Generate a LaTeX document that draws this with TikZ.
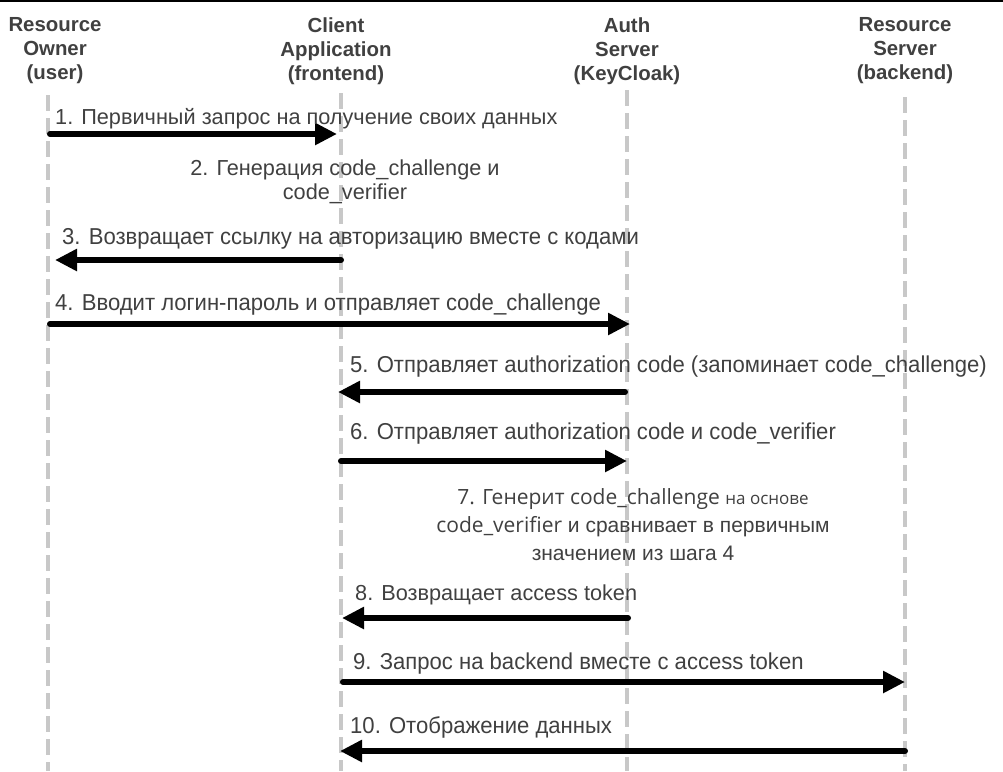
\documentclass[tikz,border=0pt]{standalone}
\usepackage{fontspec}
\setmainfont{Liberation Sans}
\newfontfamily\opensans{Open Sans}
\newfontfamily\narrow[FakeStretch=0.96]{Liberation Sans}
\usetikzlibrary{arrows.meta}
\definecolor{txt}{HTML}{404040}
\definecolor{lifegray}{HTML}{C8C8C8}

\begin{document}
\begin{tikzpicture}[
				x = 1pt, y = -1pt,
				life/.style = {draw = lifegray, line width = 4.5pt, dash pattern = on 16pt off 7pt},
				msg/.style = {-{Triangle[length = 22pt, width = 21pt]}, line width = 6pt, line cap = round},
				head/.style = {align = center, text = txt, font = \bfseries\fontsize{20.4}{24}\selectfont},
				lbl/.style = {anchor = base west, inner sep = 0pt, text = txt, font = \fontsize{21.7}{24}\selectfont},
				nlbl/.style = {lbl, font = \narrow\fontsize{23}{26}\selectfont}
			]

			\useasboundingbox (0,0) rectangle (1003,771);
			\draw [line width = 3pt] (0,0.5) -- (1003,0.5);

			\node (owner) [head] at (55,51) {Resource\\Owner\\(user)};
			\node (client) [head] at (336,51) {Client\\Application\\(frontend)};
			\node (auth) [head] at (627,51) {Auth\\Server\\(KeyCloak)};
			\node (server) [head] at (905,51) {Resource\\Server\\(backend)};

			\coordinate (owner top) at (48,95);
			\coordinate (owner end) at (48,771);
			\coordinate (client top) at (341,93);
			\coordinate (client end) at (341,771);
			\coordinate (auth top) at (627,90);
			\coordinate (auth end) at (627,771);
			\coordinate (server top) at (905,97);
			\coordinate (server end) at (905,771);

			\draw [life] (owner top) -- (owner end);
			\draw [life] (client top) -- (client end);
			\draw [life] (auth top) -- (auth end);
			\draw [life] (server top) -- (server end);

			\coordinate (s1) at (50,134);
			\coordinate (e1) at (337,134);
			\coordinate (s3) at (341,260);
			\coordinate (e3) at (55,260);
			\coordinate (s4) at (50,324);
			\coordinate (e4) at (630,324);
			\coordinate (s5) at (625,392);
			\coordinate (e5) at (338,392);
			\coordinate (s6) at (341,461);
			\coordinate (e6) at (627,461);
			\coordinate (s8) at (628,618);
			\coordinate (e8) at (342,618);
			\coordinate (s9) at (343,682);
			\coordinate (e9) at (905,682);
			\coordinate (s10) at (905,751);
			\coordinate (e10) at (340,751);

			\draw [msg] (s1) -- (e1);
			\draw [msg] (s3) -- (e3);
			\draw [msg] (s4) -- (e4);
			\draw [msg] (s5) -- (e5);
			\draw [msg] (s6) -- (e6);
			\draw [msg] (s8) -- (e8);
			\draw [msg] (s9) -- (e9);
			\draw [msg] (s10) -- (e10);

			\node (m1) [lbl] at (55,124) {1. Первичный запрос на получение своих данных};
			\node (m2) [lbl, anchor = center, align = center] at (345,182) {2. Генерация code\_challenge и\\code\_verifier};
			\node (m3) [nlbl] at (62,244) {3. Возвращает ссылку на авторизацию вместе с кодами};
			\node (m4) [nlbl] at (55,310) {4. Вводит логин-пароль и отправляет code\_challenge};
			\node (m5) [nlbl] at (350,372) {5. Отправляет authorization code (запоминает code\_challenge)};
			\node (m6) [nlbl] at (350,439) {6. Отправляет authorization code и code\_verifier};
			\node (m7) [lbl, anchor = center, align = center, font = \fontsize{21}{28}\selectfont] at (633,525) {{\opensans 7. Генерит code\_challenge \fontsize{17}{28}\selectfont на основе}\\{\opensans code\_verifier} и сравнивает в первичным\\значением из шага 4};
			\node (m8) [lbl] at (355,600) {8. Возвращает access token};
			\node (m9) [nlbl] at (353,669) {9. Запрос на backend вместе с access token};
			\node (m10) [nlbl] at (350,733) {10. Отображение данных};
		\end{tikzpicture}
\end{document}
